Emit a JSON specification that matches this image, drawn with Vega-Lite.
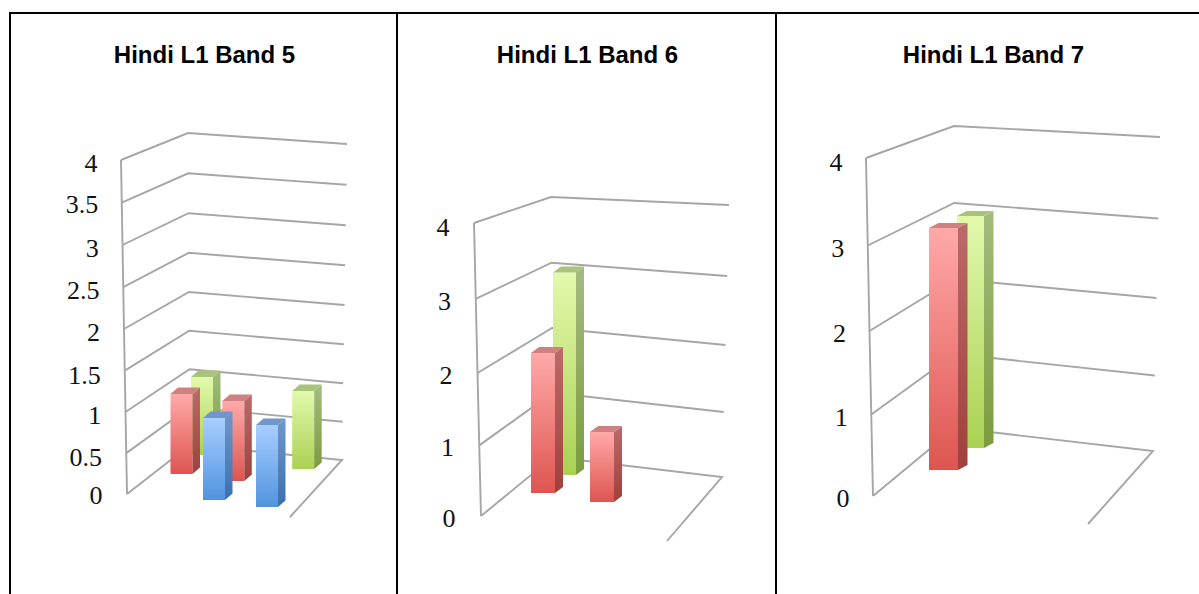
{"$schema":"https://vega.github.io/schema/vega-lite/v6.json","padding":{"left":9,"top":12,"right":0,"bottom":0},"background":"white","spacing":0,"bounds":"flush","config":{"view":{"stroke":"#000000","strokeWidth":2},"axis":{"grid":false,"domain":false,"ticks":false,"tickSize":0,"labelFont":"Liberation Serif","labelFontSize":26,"labelColor":"#111111","title":null},"title":{"font":"Liberation Sans","fontSize":24,"fontWeight":"bold","color":"#000000","anchor":"middle","baseline":"alphabetic"}},"datasets":{"levels":[{"band":5,"level":0},{"band":5,"level":0.5},{"band":5,"level":1},{"band":5,"level":1.5},{"band":5,"level":2},{"band":5,"level":2.5},{"band":5,"level":3},{"band":5,"level":3.5},{"band":5,"level":4},{"band":6,"level":0},{"band":6,"level":1},{"band":6,"level":2},{"band":6,"level":3},{"band":6,"level":4},{"band":7,"level":0},{"band":7,"level":1},{"band":7,"level":2},{"band":7,"level":3},{"band":7,"level":4}],"bars":[{"band":5,"series":"Red","category":0,"value":1},{"band":5,"series":"Green","category":0,"value":1},{"band":5,"series":"Red","category":1,"value":1},{"band":5,"series":"Blue","category":1,"value":1},{"band":5,"series":"Blue","category":2,"value":1},{"band":5,"series":"Green","category":2,"value":1},{"band":6,"series":"Red","category":0,"value":2},{"band":6,"series":"Green","category":0,"value":3},{"band":6,"series":"Red","category":1,"value":1},{"band":7,"series":"Red","category":0,"value":3},{"band":7,"series":"Green","category":0,"value":3}]},"hconcat":[
{"width":387,"height":583,"title":{"text":"Hindi L1 Band 5","offset":-55,"dx":1},"encoding":{"x":{"field":"gx","type":"quantitative","axis":null,"scale":{"domain":[10,397],"nice":false,"zero":false}},"y":{"field":"gy","type":"quantitative","scale":{"domain":[-1.2216,5.7605],"nice":false,"zero":false},"axis":{"values":[0,0.5,1,1.5,2,2.5,3,3.5,4],"labelExpr":"toString(datum.value)","offset":-92,"labelOffset":{"condition":{"test":"false","value":0},"expr":"[2,5,5,7,6,5,5,3,3][datum.value*2]"},"labelPadding":{"condition":{"test":"false","value":0},"expr":"datum.value*1.25"}}}},"layer":[
{"data":{"name":"levels"},"transform":[{"filter":"datum.band==5"},{"calculate":"datum.level==0?[0,1,2,3]:[0,1,2]","as":"t"},{"flatten":["t"]},{"calculate":"datum.t==0?127-1.5*datum.level:datum.t==1?190-0.5*datum.level:datum.t==2?342+1.25*datum.level:290","as":"gx"},{"calculate":"((494-(datum.t==0?494-81.5*datum.level-0.5*datum.level*datum.level:datum.t==1?445-75*datum.level-0.75*datum.level*datum.level:datum.t==2?460-76*datum.level-0.75*datum.level*datum.level:517))/83.5)","as":"gy"}],"layer":[{"mark":{"type":"line","color":"#A6A6A6","strokeWidth":1.9},"encoding":{"detail":{"field":"level","type":"nominal"},"order":{"field":"t","type":"quantitative"}}},{"transform":[{"filter":"datum.t==0"}],"mark":{"type":"line","color":"#A6A6A6","strokeWidth":1.9},"encoding":{"order":{"field":"level","type":"quantitative"}}}]},
{"data":{"name":"bars"},"transform":[{"filter":"datum.band==5"},{"calculate":"[0,1,2,3,4,5,6,7]","as":"t"},{"flatten":["t"]},{"calculate":"datum.series=='Blue'?0:datum.series=='Red'?1:2","as":"d"},{"calculate":"150+53*datum.category+20.5*datum.d-1.2*datum.category*datum.d","as":"L"},{"calculate":"datum.L+22","as":"R"},{"calculate":"493+7*datum.category-19*datum.d","as":"B"},{"calculate":"datum.B-datum.value*(82-2*datum.d)","as":"T"},{"calculate":"datum.t<4?'top':datum.t<6?'side':'front'","as":"face"},{"calculate":"datum.t==0?datum.L:datum.t==1?datum.L+7.5:datum.t==2?datum.R:datum.t==3?datum.R+7.5:datum.t==4?datum.R:datum.t==5?datum.R+7.5:datum.t==6?datum.L:datum.R","as":"gx"},{"calculate":"(494-(datum.t==0||datum.t==4||datum.t>5?datum.T:datum.T-6.5))/83.5","as":"gy"},{"calculate":"(494-(datum.t<3?datum.T:datum.t==3?datum.T-6.5:datum.t==5?datum.B-6.5:datum.B))/83.5","as":"gy2"}],"layer":[
{"transform":[{"filter":"datum.series=='Green'&&datum.face=='front'"}],"mark":{"type":"area","orient":"vertical","color":{"gradient":"linear","x1":0,"y1":0,"x2":0,"y2":1,"stops":[{"offset":0,"color":"#E2F9AC"},{"offset":1,"color":"#AAD153"}]}},"encoding":{"y2":{"field":"gy2"},"detail":{"field":"category","type":"nominal"}}},
{"transform":[{"filter":"datum.series=='Green'&&datum.face=='side'"}],"mark":{"type":"area","orient":"vertical","color":{"gradient":"linear","x1":0,"y1":0,"x2":0,"y2":1,"stops":[{"offset":0,"color":"#A3BC7E"},{"offset":1,"color":"#7B9C3E"}]}},"encoding":{"y2":{"field":"gy2"},"detail":{"field":"category","type":"nominal"}}},
{"transform":[{"filter":"datum.series=='Green'&&datum.face=='top'"}],"mark":{"type":"area","orient":"vertical","color":"#A9C47A"},"encoding":{"y2":{"field":"gy2"},"detail":{"field":"category","type":"nominal"}}},
{"transform":[{"filter":"datum.series=='Red'&&datum.face=='front'"}],"mark":{"type":"area","orient":"vertical","color":{"gradient":"linear","x1":0,"y1":0,"x2":0,"y2":1,"stops":[{"offset":0,"color":"#FFA9A9"},{"offset":1,"color":"#DD5550"}]}},"encoding":{"y2":{"field":"gy2"},"detail":{"field":"category","type":"nominal"}}},
{"transform":[{"filter":"datum.series=='Red'&&datum.face=='side'"}],"mark":{"type":"area","orient":"vertical","color":{"gradient":"linear","x1":0,"y1":0,"x2":0,"y2":1,"stops":[{"offset":0,"color":"#BB6A6A"},{"offset":1,"color":"#A0403C"}]}},"encoding":{"y2":{"field":"gy2"},"detail":{"field":"category","type":"nominal"}}},
{"transform":[{"filter":"datum.series=='Red'&&datum.face=='top'"}],"mark":{"type":"area","orient":"vertical","color":"#CF8080"},"encoding":{"y2":{"field":"gy2"},"detail":{"field":"category","type":"nominal"}}},
{"transform":[{"filter":"datum.series=='Blue'&&datum.face=='front'"}],"mark":{"type":"area","orient":"vertical","color":{"gradient":"linear","x1":0,"y1":0,"x2":0,"y2":1,"stops":[{"offset":0,"color":"#A8CEFF"},{"offset":1,"color":"#5193DE"}]}},"encoding":{"y2":{"field":"gy2"},"detail":{"field":"category","type":"nominal"}}},
{"transform":[{"filter":"datum.series=='Blue'&&datum.face=='side'"}],"mark":{"type":"area","orient":"vertical","color":{"gradient":"linear","x1":0,"y1":0,"x2":0,"y2":1,"stops":[{"offset":0,"color":"#7097CC"},{"offset":1,"color":"#3B70AC"}]}},"encoding":{"y2":{"field":"gy2"},"detail":{"field":"category","type":"nominal"}}},
{"transform":[{"filter":"datum.series=='Blue'&&datum.face=='top'"}],"mark":{"type":"area","orient":"vertical","color":"#7097CC"},"encoding":{"y2":{"field":"gy2"},"detail":{"field":"category","type":"nominal"}}}
]}]},
{"width":379,"height":583,"title":{"text":"Hindi L1 Band 6","offset":-55,"dx":1},"encoding":{"x":{"field":"gx","type":"quantitative","axis":null,"scale":{"domain":[397,776],"nice":false,"zero":false}},"y":{"field":"gy","type":"quantitative","scale":{"domain":[-1.0922,6.8673],"nice":false,"zero":false},"axis":{"values":[0,1,2,3,4],"labelExpr":"toString(datum.value)","offset":-58,"labelOffset":{"condition":{"test":"false","value":0},"expr":"[2,5,6,5,4][datum.value]"},"labelPadding":{"condition":{"test":"false","value":0},"expr":"datum.value*1.5"}}}},"layer":[
{"data":{"name":"levels"},"transform":[{"filter":"datum.band==6"},{"calculate":"datum.level==0?[0,1,2,3]:[0,1,2]","as":"t"},{"flatten":["t"]},{"calculate":"datum.t==0?481-1.75*datum.level:datum.t==1?553-0.5*datum.level:datum.t==2?722+1.75*datum.level:667","as":"gx"},{"calculate":"((516-(datum.t==0?516-69.75*datum.level-0.875*datum.level*datum.level:datum.t==1?457-64*datum.level-0.25*datum.level*datum.level:datum.t==2?477-64*datum.level-datum.level*datum.level:541))/73.25)","as":"gy"}],"layer":[{"mark":{"type":"line","color":"#A6A6A6","strokeWidth":1.9},"encoding":{"detail":{"field":"level","type":"nominal"},"order":{"field":"t","type":"quantitative"}}},{"transform":[{"filter":"datum.t==0"}],"mark":{"type":"line","color":"#A6A6A6","strokeWidth":1.9},"encoding":{"order":{"field":"level","type":"quantitative"}}}]},
{"data":{"name":"bars"},"transform":[{"filter":"datum.band==6"},{"calculate":"[0,1,2,3,4,5,6,7]","as":"t"},{"flatten":["t"]},{"calculate":"datum.series=='Red'?0:1","as":"d"},{"calculate":"531+59*datum.category+22*datum.d","as":"L"},{"calculate":"datum.L+24-datum.d","as":"R"},{"calculate":"493+9*datum.category-18*datum.d","as":"B"},{"calculate":"datum.B-datum.value*(70-2.5*datum.d)","as":"T"},{"calculate":"datum.t<4?'top':datum.t<6?'side':'front'","as":"face"},{"calculate":"datum.t==0?datum.L:datum.t==1?datum.L+8:datum.t==2?datum.R:datum.t==3?datum.R+8:datum.t==4?datum.R:datum.t==5?datum.R+8:datum.t==6?datum.L:datum.R","as":"gx"},{"calculate":"(516-(datum.t==0||datum.t==4||datum.t>5?datum.T:datum.T-6))/73.25","as":"gy"},{"calculate":"(516-(datum.t<3?datum.T:datum.t==3?datum.T-6:datum.t==5?datum.B-6:datum.B))/73.25","as":"gy2"}],"layer":[
{"transform":[{"filter":"datum.series=='Green'&&datum.face=='front'"}],"mark":{"type":"area","orient":"vertical","color":{"gradient":"linear","x1":0,"y1":0,"x2":0,"y2":1,"stops":[{"offset":0,"color":"#E2F9AC"},{"offset":1,"color":"#AAD153"}]}},"encoding":{"y2":{"field":"gy2"},"detail":{"field":"category","type":"nominal"}}},
{"transform":[{"filter":"datum.series=='Green'&&datum.face=='side'"}],"mark":{"type":"area","orient":"vertical","color":{"gradient":"linear","x1":0,"y1":0,"x2":0,"y2":1,"stops":[{"offset":0,"color":"#A3BC7E"},{"offset":1,"color":"#7B9C3E"}]}},"encoding":{"y2":{"field":"gy2"},"detail":{"field":"category","type":"nominal"}}},
{"transform":[{"filter":"datum.series=='Green'&&datum.face=='top'"}],"mark":{"type":"area","orient":"vertical","color":"#A9C47A"},"encoding":{"y2":{"field":"gy2"},"detail":{"field":"category","type":"nominal"}}},
{"transform":[{"filter":"datum.series=='Red'&&datum.face=='front'"}],"mark":{"type":"area","orient":"vertical","color":{"gradient":"linear","x1":0,"y1":0,"x2":0,"y2":1,"stops":[{"offset":0,"color":"#FFA9A9"},{"offset":1,"color":"#DD5550"}]}},"encoding":{"y2":{"field":"gy2"},"detail":{"field":"category","type":"nominal"}}},
{"transform":[{"filter":"datum.series=='Red'&&datum.face=='side'"}],"mark":{"type":"area","orient":"vertical","color":{"gradient":"linear","x1":0,"y1":0,"x2":0,"y2":1,"stops":[{"offset":0,"color":"#BB6A6A"},{"offset":1,"color":"#A0403C"}]}},"encoding":{"y2":{"field":"gy2"},"detail":{"field":"category","type":"nominal"}}},
{"transform":[{"filter":"datum.series=='Red'&&datum.face=='top'"}],"mark":{"type":"area","orient":"vertical","color":"#CF8080"},"encoding":{"y2":{"field":"gy2"},"detail":{"field":"category","type":"nominal"}}}
]}]},
{"width":425,"height":583,"title":{"text":"Hindi L1 Band 7","offset":-55,"dx":5},"encoding":{"x":{"field":"gx","type":"quantitative","axis":null,"scale":{"domain":[776,1201],"nice":false,"zero":false}},"y":{"field":"gy","type":"quantitative","scale":{"domain":[-1.1834,5.716],"nice":false,"zero":false},"axis":{"values":[0,1,2,3,4],"labelExpr":"toString(datum.value)","offset":-73,"labelOffset":{"condition":{"test":"false","value":0},"expr":"[2,6,6,6,4][datum.value]"},"labelPadding":{"condition":{"test":"false","value":0},"expr":"datum.value*1.75"}}}},"layer":[
{"data":{"name":"levels"},"transform":[{"filter":"datum.band==7"},{"calculate":"datum.level==0?[0,1,2,3]:[0,1,2]","as":"t"},{"flatten":["t"]},{"calculate":"datum.t==0?873-1.75*datum.level:datum.t==1?955-0.25*datum.level:datum.t==2?1153+1.75*datum.level:1088","as":"gx"},{"calculate":"((496-(datum.t==0?496-80.5*datum.level-datum.level*datum.level:datum.t==1?428-73.5*datum.level-0.5*datum.level*datum.level:datum.t==2?451-74.5*datum.level-datum.level*datum.level:524))/84.5)","as":"gy"}],"layer":[{"mark":{"type":"line","color":"#A6A6A6","strokeWidth":1.9},"encoding":{"detail":{"field":"level","type":"nominal"},"order":{"field":"t","type":"quantitative"}}},{"transform":[{"filter":"datum.t==0"}],"mark":{"type":"line","color":"#A6A6A6","strokeWidth":1.9},"encoding":{"order":{"field":"level","type":"quantitative"}}}]},
{"data":{"name":"bars"},"transform":[{"filter":"datum.band==7"},{"calculate":"[0,1,2,3,4,5,6,7]","as":"t"},{"flatten":["t"]},{"calculate":"datum.series=='Red'?0:1","as":"d"},{"calculate":"929+28*datum.d","as":"L"},{"calculate":"datum.L+29-2*datum.d","as":"R"},{"calculate":"470-22*datum.d","as":"B"},{"calculate":"datum.B-datum.value*(80.7-3.4*datum.d)","as":"T"},{"calculate":"datum.t<4?'top':datum.t<6?'side':'front'","as":"face"},{"calculate":"datum.t==0?datum.L:datum.t==1?datum.L+9.5:datum.t==2?datum.R:datum.t==3?datum.R+9.5:datum.t==4?datum.R:datum.t==5?datum.R+9.5:datum.t==6?datum.L:datum.R","as":"gx"},{"calculate":"(496-(datum.t==0||datum.t==4||datum.t>5?datum.T:datum.T-5))/84.5","as":"gy"},{"calculate":"(496-(datum.t<3?datum.T:datum.t==3?datum.T-5:datum.t==5?datum.B-5:datum.B))/84.5","as":"gy2"}],"layer":[
{"transform":[{"filter":"datum.series=='Green'&&datum.face=='front'"}],"mark":{"type":"area","orient":"vertical","color":{"gradient":"linear","x1":0,"y1":0,"x2":0,"y2":1,"stops":[{"offset":0,"color":"#E2F9AC"},{"offset":1,"color":"#AAD153"}]}},"encoding":{"y2":{"field":"gy2"},"detail":{"field":"category","type":"nominal"}}},
{"transform":[{"filter":"datum.series=='Green'&&datum.face=='side'"}],"mark":{"type":"area","orient":"vertical","color":{"gradient":"linear","x1":0,"y1":0,"x2":0,"y2":1,"stops":[{"offset":0,"color":"#A3BC7E"},{"offset":1,"color":"#7B9C3E"}]}},"encoding":{"y2":{"field":"gy2"},"detail":{"field":"category","type":"nominal"}}},
{"transform":[{"filter":"datum.series=='Green'&&datum.face=='top'"}],"mark":{"type":"area","orient":"vertical","color":"#A9C47A"},"encoding":{"y2":{"field":"gy2"},"detail":{"field":"category","type":"nominal"}}},
{"transform":[{"filter":"datum.series=='Red'&&datum.face=='front'"}],"mark":{"type":"area","orient":"vertical","color":{"gradient":"linear","x1":0,"y1":0,"x2":0,"y2":1,"stops":[{"offset":0,"color":"#FFA9A9"},{"offset":1,"color":"#DD5550"}]}},"encoding":{"y2":{"field":"gy2"},"detail":{"field":"category","type":"nominal"}}},
{"transform":[{"filter":"datum.series=='Red'&&datum.face=='side'"}],"mark":{"type":"area","orient":"vertical","color":{"gradient":"linear","x1":0,"y1":0,"x2":0,"y2":1,"stops":[{"offset":0,"color":"#BB6A6A"},{"offset":1,"color":"#A0403C"}]}},"encoding":{"y2":{"field":"gy2"},"detail":{"field":"category","type":"nominal"}}},
{"transform":[{"filter":"datum.series=='Red'&&datum.face=='top'"}],"mark":{"type":"area","orient":"vertical","color":"#CF8080"},"encoding":{"y2":{"field":"gy2"},"detail":{"field":"category","type":"nominal"}}}
]}]}
]}
